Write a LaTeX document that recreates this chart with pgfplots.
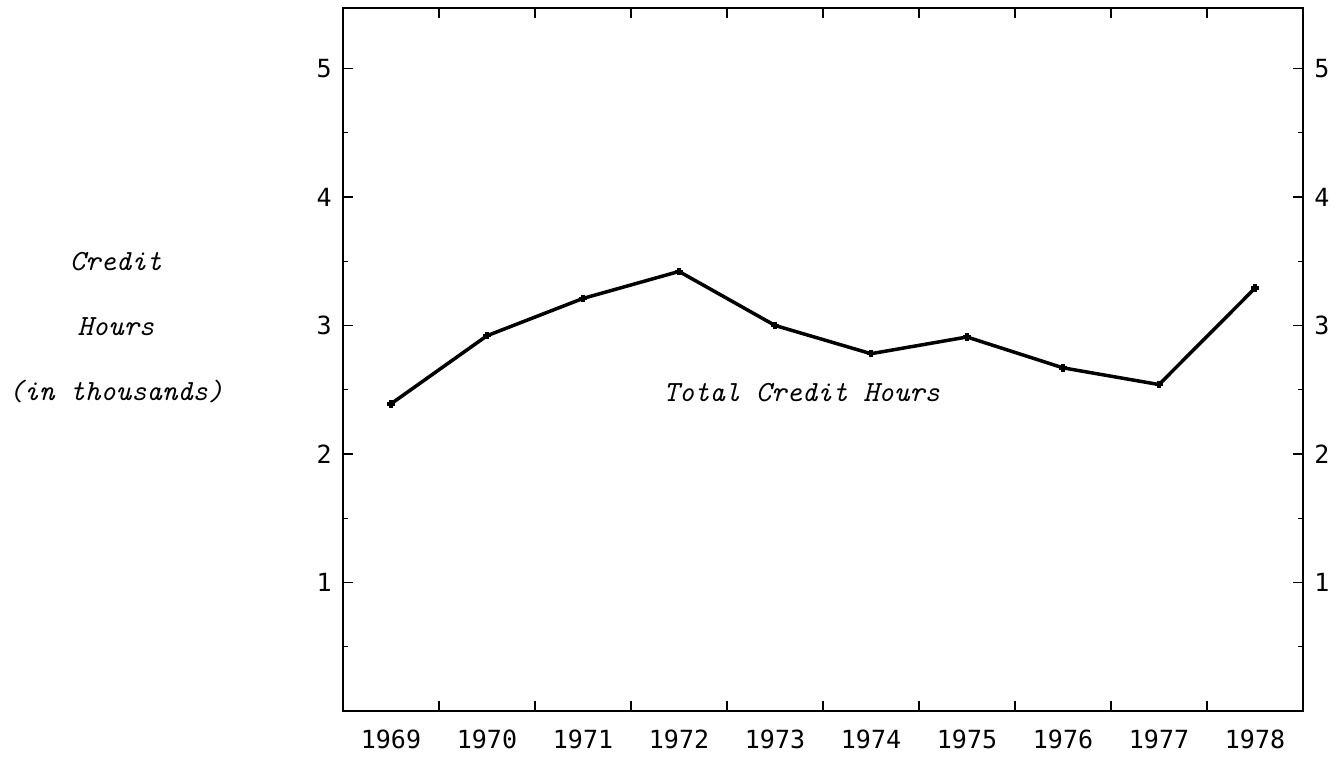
\documentclass[border=0pt]{standalone}
\usepackage{fontspec}
\usepackage{pgfplots}
\pgfplotsset{compat=1.18}
\usetikzlibrary{calc}
\newfontfamily\tk{DejaVu Sans Mono}
\pgfplotsset{
  common/.style={
    scale only axis,
    width=384pt, height=281.2pt,
    xmin=1968.5, xmax=1978.5,
    ymin=0, ymax=5.47,
    axis line style={line width=0.6pt},
    tick style={black, line width=0.5pt},
    major tick length=4pt,
    minor tick length=2.2pt,
    tick align=inside,
    xtick={1969.5,1970.5,...,1977.5},
    xticklabels={},
    ytick={1,2,3,4,5},
    minor ytick={0.5,1.5,2.5,3.5,4.5},
    tick label style={font=\tk\fontsize{10}{12}\selectfont},
    /pgf/number format/assume math mode=true,
    /pgf/number format/1000 sep={},
  }
}
\begin{document}
\begin{tikzpicture}
\begin{axis}[common, name=ax,
    yticklabel pos=left,
    yticklabel style={xshift=-1pt},
    extra x ticks={1969,1970,1971,1972,1973,1974,1975,1976,1977,1978},
    extra x tick labels={1969,1970,1971,1972,1973,1974,1975,1976,1977,1978},
    extra x tick style={tick style={draw=none}, xticklabel style={yshift=-4pt}},
    ylabel={Credit\\Hours\\(in thousands)},
    ylabel style={rotate=-90, align=center,
      font=\ttfamily\itshape\fontsize{11.7}{26}\selectfont,
      at={(rel axis cs:-0.2365,0.545)}, anchor=center},
  ]
  \addplot[black, line width=1.4pt, mark=+, mark size=1.5pt] coordinates {
    (1969,2.39) (1970,2.92) (1971,3.21) (1972,3.42) (1973,3.00)
    (1974,2.78) (1975,2.91) (1976,2.67) (1977,2.54) (1978,3.29)
  };
  \node[font=\ttfamily\itshape\fontsize{11.7}{14}\selectfont] at (axis cs:1973.28,2.48) {Total Credit Hours};
\end{axis}
\begin{axis}[common,
    yticklabel pos=right,
    yticklabel style={xshift=1pt},
  ]
\end{axis}
\pgfresetboundingbox
\path ($(ax.south west)+(-137.2pt,-19.2pt)$) rectangle ($(ax.north east)+(15.6pt,3.2pt)$);
\end{tikzpicture}
\end{document}
